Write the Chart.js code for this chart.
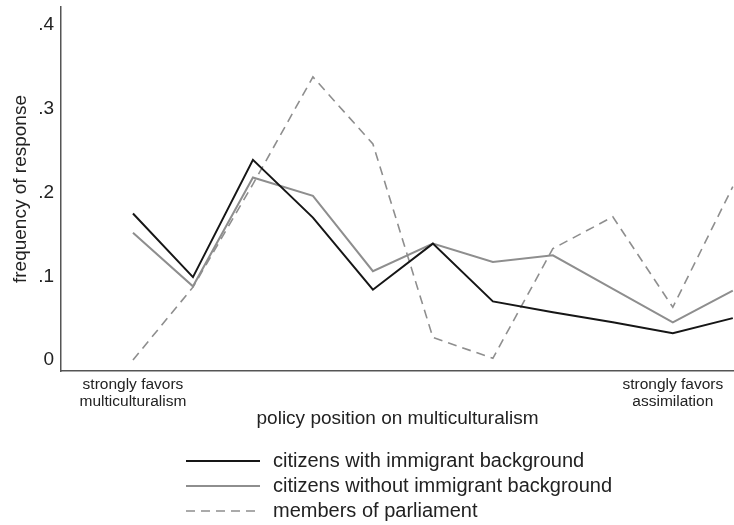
<!DOCTYPE html>
<html>
<head>
<meta charset="utf-8">
<script src="https://cdn.jsdelivr.net/npm/chart.js@4.4.0/dist/chart.umd.min.js"></script>
<style>
  html, body { margin: 0; padding: 0; background: #fff; }
  #wrap { width: 734px; height: 525px; }
</style>
</head>
<body>
<div id="wrap"><canvas id="chart"></canvas></div>
<script>
// positions on the policy scale (0 = strongly multiculturalism)
const positions = [0, 1, 2, 3, 4, 5, 6, 7, 8, 9, 10];

const withImmigrant = [0.175, 0.099, 0.239, 0.170, 0.084, 0.139, 0.070, 0.057, 0.045, 0.032, 0.050];
const withoutImmigrant = [0.152, 0.088, 0.218, 0.196, 0.106, 0.139, 0.117, 0.125, 0.085, 0.045, 0.083];
const parliament = [0.0, 0.087, 0.210, 0.338, 0.258, 0.027, 0.002, 0.133, 0.171, 0.063, 0.207];

const seriesNames = [
  'citizens with immigrant background',
  'citizens without immigrant background',
  'members of parliament'
];

const yTickValues = [0, 0.1, 0.2, 0.3, 0.4];
const yTickLabels = ['0', '.1', '.2', '.3', '.4'];

const xTickValues = [0, 9];
const xTickLabels = [
  ['strongly favors', 'multiculturalism'],
  ['strongly favors', 'assimilation']
];

const FONT = "'Liberation Sans', Arial, Helvetica, sans-serif";
const TEXT = '#222';

function toPoints(vals) {
  return positions.map((p, i) => ({ x: p, y: vals[i] }));
}

// legend drawn as a stacked list under the axis title
const stackedLegend = {
  id: 'stackedLegend',
  afterDraw(chart) {
    const ctx = chart.ctx;
    const rows = [461, 486, 511];
    ctx.save();
    chart.data.datasets.forEach((ds, i) => {
      const y = rows[i];
      ctx.beginPath();
      ctx.setLineDash(ds.borderDash || []);
      ctx.strokeStyle = ds.borderColor;
      ctx.lineWidth = ds.borderWidth;
      ctx.moveTo(186, y);
      ctx.lineTo(260, y);
      ctx.stroke();
      ctx.setLineDash([]);
      ctx.fillStyle = TEXT;
      ctx.font = '20px ' + FONT;
      ctx.textBaseline = 'middle';
      ctx.textAlign = 'left';
      ctx.fillText(ds.label, 273, y);
    });
    ctx.restore();
  }
};

new Chart(document.getElementById('chart'), {
  type: 'line',
  data: {
    datasets: [
      {
        label: seriesNames[0],
        data: toPoints(withImmigrant),
        borderColor: '#161616',
        borderWidth: 2,
        pointRadius: 0,
        tension: 0,
        fill: false
      },
      {
        label: seriesNames[1],
        data: toPoints(withoutImmigrant),
        borderColor: '#8e8e8e',
        borderWidth: 2,
        pointRadius: 0,
        tension: 0,
        fill: false
      },
      {
        label: seriesNames[2],
        data: toPoints(parliament),
        borderColor: '#8e8e8e',
        borderWidth: 1.6,
        borderDash: [9, 6],
        pointRadius: 0,
        tension: 0,
        fill: false
      }
    ]
  },
  options: {
    responsive: true,
    maintainAspectRatio: false,
    animation: false,
    layout: { padding: { top: 7, right: 0, bottom: 84, left: 0 } },
    plugins: {
      legend: { display: false },
      tooltip: { enabled: false }
    },
    scales: {
      x: {
        type: 'linear',
        min: -1.2,
        max: 10.02,
        grid: { display: false, drawTicks: false },
        border: { display: true, color: '#555', width: 1.5 },
        afterBuildTicks: (scale) => {
          scale.ticks = xTickValues.map(v => ({ value: v }));
        },
        afterFit: (scale) => {
          scale.height = 70;
          scale.paddingLeft = 0;
          scale.paddingRight = 0;
        },
        ticks: {
          autoSkip: false,
          maxRotation: 0,
          padding: 6,
          color: TEXT,
          font: { family: FONT, size: 15.5, lineHeight: 1.05 },
          callback: (v, i) => xTickLabels[i]
        },
        title: {
          display: true,
          text: 'policy position on multiculturalism',
          color: TEXT,
          font: { family: FONT, size: 19 },
          padding: { top: 0, bottom: 11 }
        }
      },
      y: {
        min: -0.0131,
        max: 0.4215,
        grid: { display: false, drawTicks: false },
        border: { display: true, color: '#555', width: 1.5 },
        afterBuildTicks: (scale) => {
          scale.ticks = yTickValues.map(v => ({ value: v }));
        },
        afterFit: (scale) => {
          scale.width = 61;
          scale.paddingTop = 0;
          scale.paddingBottom = 0;
        },
        ticks: {
          padding: 7,
          color: TEXT,
          font: { family: FONT, size: 19 },
          callback: (v, i) => yTickLabels[i]
        },
        title: {
          display: true,
          text: 'frequency of response',
          color: TEXT,
          font: { family: FONT, size: 19 },
          padding: { top: 9, bottom: 0 }
        }
      }
    }
  },
  plugins: [stackedLegend]
});
</script>
</body>
</html>
